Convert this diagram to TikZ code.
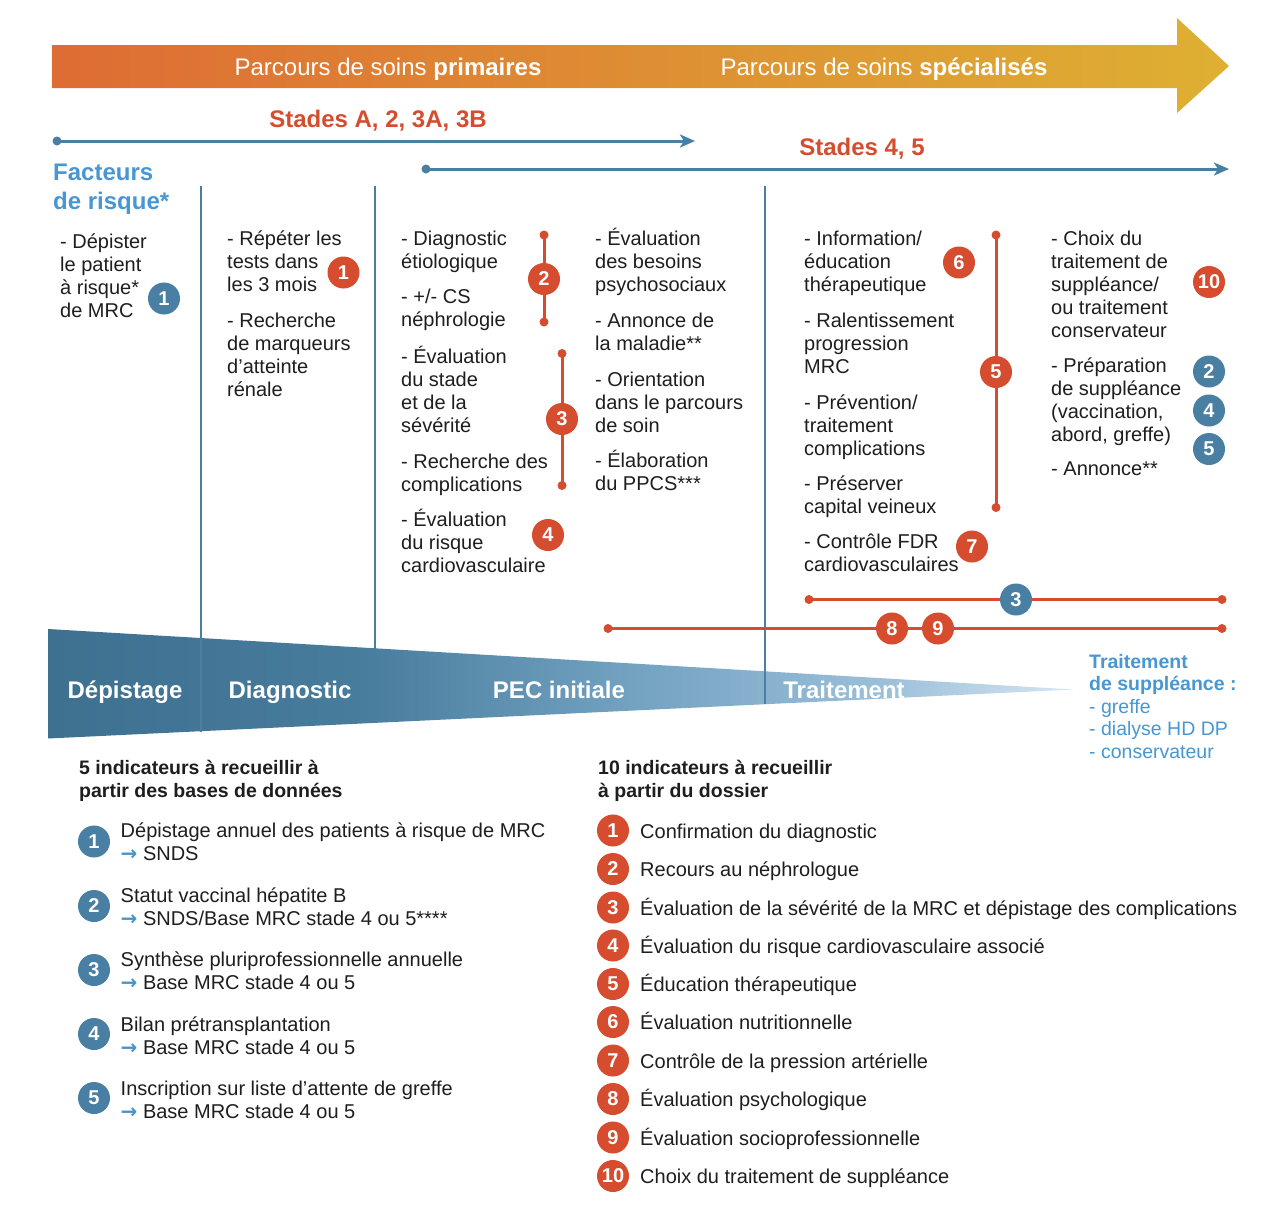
\documentclass[tikz,border=0pt]{standalone}
\usepackage{fontspec}
\setmainfont{Liberation Sans}
\newfontfamily\symfont{DejaVu Sans}
\usetikzlibrary{arrows.meta}
\definecolor{redc}{RGB}{214,76,46}
\definecolor{bluec}{RGB}{73,127,162}
\definecolor{lblue}{RGB}{72,150,210}
\definecolor{arrblue}{RGB}{70,148,200}
\definecolor{txt}{RGB}{30,30,30}
\definecolor{orL}{RGB}{222,108,52}
\definecolor{orR}{RGB}{222,176,50}
\definecolor{wA}{RGB}{62,112,144}
\definecolor{wB}{RGB}{72,124,156}
\definecolor{wC}{RGB}{110,158,190}
\definecolor{wD}{RGB}{156,192,218}
\definecolor{wE}{RGB}{214,230,242}
\pgfdeclarehorizontalshading{wedgeshade}{100bp}{color(0bp)=(wA); color(25bp)=(wA); color(40bp)=(wB); color(52bp)=(wC); color(66bp)=(wD); color(75bp)=(wE); color(100bp)=(wE)}
\pgfdeclarelayer{back}
\pgfdeclarelayer{mid}
\pgfsetlayers{back,mid,main}
\newcommand\mylines[1]{\vtop{\halign{##\hfil\cr#1\crcr}}}
\newcommand\arr{\textcolor{arrblue}{\symfont\bfseries →}}
\tikzset{
 body/.style={font=\fontsize{20}{23}\selectfont, text=txt, inner sep=0pt, anchor=base west},
 bodyb/.style={body, font=\bfseries\fontsize{19.5}{23}\selectfont},
 badge/.style={circle, fill=redc, text=white, font=\bfseries\fontsize{20}{20}\selectfont, minimum size=32pt, inner sep=0pt},
 bbadge/.style={badge, fill=bluec},
 rdot/.style={circle, fill=redc, minimum size=9pt, inner sep=0pt},
 bdot/.style={circle, fill=bluec, minimum size=9pt, inner sep=0pt},
 rline/.style={draw=redc, line width=3pt},
 barrow/.style={draw=bluec, line width=3pt, -{Stealth[length=15pt,width=13pt,inset=4pt]}},
 vline/.style={draw=bluec, line width=1.5pt},
 wlabel/.style={font=\bfseries\fontsize{24}{28}\selectfont, text=white, anchor=base, inner sep=0pt},
 toplabel/.style={font=\fontsize{24}{28}\selectfont, text=white, anchor=base, inner sep=0pt},
 stade/.style={font=\bfseries\fontsize{24}{28}\selectfont, text=redc, anchor=base, inner sep=0pt},
}
\begin{document}
\begin{tikzpicture}[x=1pt,y=-1pt]
\useasboundingbox (0,0) rectangle (1280,1208);
\begin{pgfonlayer}{back}
\fill[white] (0,0) rectangle (1280,1208);
\shade[left color=orL, right color=orR] (52,45) -- (1177,45) -- (1177,18) -- (1229,66) -- (1177,113) -- (1177,88) -- (52,88) -- cycle;
\shade[shading=wedgeshade] (48,629) -- (1073,689.5) -- (48,738.5) -- cycle;
\end{pgfonlayer}

% top arrow labels
\node[toplabel] (p1) at (388,75) {Parcours de soins \textbf{primaires}};
\node[toplabel] (p2) at (884,75) {Parcours de soins \textbf{spécialisés}};

% stages
\node[stade] (st1) at (378,127.5) {Stades A, 2, 3A, 3B};
\node[stade] (st2) at (862,155) {Stades 4, 5};
\node[bdot] (s1) at (57,141) {};
\coordinate (s1e) at (695,141);
\node[bdot] (s2) at (426,169) {};
\coordinate (s2e) at (1229,169);

\node[font=\bfseries\fontsize{24}{29}\selectfont, text=lblue, anchor=base west, inner sep=0pt] (fr) at (53,180) {\mylines{Facteurs\cr de risque*}};

% column separators
\coordinate (v1t) at (201,186); \coordinate (v1b) at (201,731.5);
\coordinate (v2t) at (375,186); \coordinate (v2b) at (375,723);
\coordinate (v3t) at (765,186); \coordinate (v3b) at (765,704);

% column texts
\node[body] (c1a) at (60,248) {\mylines{- Dépister\cr le patient\cr à risque*\cr de MRC}};
\node[body] (c2a) at (227,245) {\mylines{- Répéter les\cr tests dans\cr les 3 mois}};
\node[body] (c2b) at (227,327) {\mylines{- Recherche\cr de marqueurs\cr d’atteinte\cr rénale}};
\node[body] (c3a) at (401,245) {\mylines{- Diagnostic\cr étiologique}};
\node[body] (c3b) at (401,303.5) {\mylines{- +/- CS\cr néphrologie}};
\node[body] (c3c) at (401,363) {\mylines{- Évaluation\cr du stade\cr et de la\cr sévérité}};
\node[body] (c3d) at (401,468) {\mylines{- Recherche des\cr complications}};
\node[body] (c3e) at (401,526) {\mylines{- Évaluation\cr du risque\cr cardiovasculaire}};
\node[body] (c4a) at (595,245) {\mylines{- Évaluation\cr des besoins\cr psychosociaux}};
\node[body] (c4b) at (595,327) {\mylines{- Annonce de\cr la maladie**}};
\node[body] (c4c) at (595,386) {\mylines{- Orientation\cr dans le parcours\cr de soin}};
\node[body] (c4d) at (595,467.5) {\mylines{- Élaboration\cr du PPCS***}};
\node[body] (c5a) at (804,245) {\mylines{- Information/\cr éducation\cr thérapeutique}};
\node[body] (c5b) at (804,327) {\mylines{- Ralentissement\cr progression\cr MRC}};
\node[body] (c5c) at (804,409) {\mylines{- Prévention/\cr traitement\cr complications}};
\node[body] (c5d) at (804,490.5) {\mylines{- Préserver\cr capital veineux}};
\node[body] (c5e) at (804,548.5) {\mylines{- Contrôle FDR\cr cardiovasculaires}};
\node[body] (c6a) at (1051,245) {\mylines{- Choix du\cr traitement de\cr suppléance/\cr ou traitement\cr conservateur}};
\node[body] (c6b) at (1051,372) {\mylines{- Préparation\cr de suppléance\cr (vaccination,\cr abord, greffe)}};
\node[body] (c6c) at (1051,475.5) {\mylines{- Annonce**}};

% brackets
\node[rdot] (b2t) at (544,235) {}; \node[rdot] (b2b) at (544,322) {};
\node[rdot] (b3t) at (562,353.5) {}; \node[rdot] (b3b) at (562,485.5) {};
\node[rdot] (b5t) at (996,235) {}; \node[rdot] (b5b) at (996,507.5) {};
\node[rdot] (h1l) at (809,599.5) {}; \node[rdot] (h1r) at (1222,599.5) {};
\node[rdot] (h2l) at (608,628.5) {}; \node[rdot] (h2r) at (1222,628.5) {};

% badges top
\node[bbadge] (tb1) at (164,298.5) {1};
\node[badge] (tr1) at (343.5,272.5) {1};
\node[badge] (tr2) at (544,279) {2};
\node[badge] (tr3) at (562,419) {3};
\node[badge] (tr4) at (548,535) {4};
\node[badge] (tr6) at (959,262.5) {6};
\node[badge] (tr5) at (996,372) {5};
\node[badge] (tr7) at (972,546.5) {7};
\node[badge] (tr10) at (1209,282) {10};
\node[bbadge] (tb2) at (1209,371.5) {2};
\node[bbadge] (tb4) at (1209,410.5) {4};
\node[bbadge] (tb5) at (1209,449) {5};
\node[bbadge] (tb3) at (1016,599.5) {3};
\node[badge] (tr8) at (892,628.5) {8};
\node[badge] (tr9) at (938,628.5) {9};

\begin{pgfonlayer}{mid}
\draw[barrow] (s1.center) -- (s1e);
\draw[barrow] (s2.center) -- (s2e);
\draw[vline] (v1t) -- (v1b);
\draw[vline] (v2t) -- (v2b);
\draw[vline] (v3t) -- (v3b);
\draw[rline] (b2t.center) -- (b2b.center);
\draw[rline] (b3t.center) -- (b3b.center);
\draw[rline] (b5t.center) -- (b5b.center);
\draw[rline] (h1l.center) -- (h1r.center);
\draw[rline] (h2l.center) -- (h2r.center);
\end{pgfonlayer}

% wedge labels
\node[wlabel] (w1) at (125,698) {Dépistage};
\node[wlabel] (w2) at (290,698) {Diagnostic};
\node[wlabel] (w3) at (559,698) {PEC initiale};
\node[wlabel] (w4) at (844,698) {Traitement};

\node[font=\fontsize{19.5}{22.4}\selectfont, text=lblue, anchor=base west, inner sep=0pt] (ts) at (1089,668.5)
 {\mylines{\bfseries Traitement\cr \bfseries de suppléance :\cr - greffe\cr - dialyse HD DP\cr - conservateur}};

% bottom left list
\node[bodyb] (hl) at (79,774) {\mylines{5 indicateurs à recueillir à\cr partir des bases de données}};
\node[bbadge] (l1) at (94,841.5) {1};
\node[bbadge] (l2) at (94,906) {2};
\node[bbadge] (l3) at (94,970) {3};
\node[bbadge] (l4) at (94,1034) {4};
\node[bbadge] (l5) at (94,1098) {5};
\node[body] (lt1) at (120.5,837.5) {\mylines{Dépistage annuel des patients à risque de MRC\cr \arr\ SNDS}};
\node[body] (lt2) at (120.5,902) {\mylines{Statut vaccinal hépatite B\cr \arr\ SNDS/Base MRC stade 4 ou 5****}};
\node[body] (lt3) at (120.5,966.5) {\mylines{Synthèse pluriprofessionnelle annuelle\cr \arr\ Base MRC stade 4 ou 5}};
\node[body] (lt4) at (120.5,1031) {\mylines{Bilan prétransplantation\cr \arr\ Base MRC stade 4 ou 5}};
\node[body] (lt5) at (120.5,1095) {\mylines{Inscription sur liste d’attente de greffe\cr \arr\ Base MRC stade 4 ou 5}};

% bottom right list
\node[bodyb] (hr) at (598,774) {\mylines{10 indicateurs à recueillir\cr à partir du dossier}};
\node[badge] (r1) at (613,830.5) {1};
\node[badge] (r2) at (613,869) {2};
\node[badge] (r3) at (613,907.5) {3};
\node[badge] (r4) at (613,945.5) {4};
\node[badge] (r5) at (613,984) {5};
\node[badge] (r6) at (613,1022) {6};
\node[badge] (r7) at (613,1060.5) {7};
\node[badge] (r8) at (613,1099) {8};
\node[badge] (r9) at (613,1137.5) {9};
\node[badge] (r10) at (613,1176) {10};
\node[body] (rt1) at (640,838) {Confirmation du diagnostic};
\node[body] (rt2) at (640,876.5) {Recours au néphrologue};
\node[body] (rt3) at (640,915) {Évaluation de la sévérité de la MRC et dépistage des complications};
\node[body] (rt4) at (640,953) {Évaluation du risque cardiovasculaire associé};
\node[body] (rt5) at (640,991.5) {Éducation thérapeutique};
\node[body] (rt6) at (640,1029.5) {Évaluation nutritionnelle};
\node[body] (rt7) at (640,1068) {Contrôle de la pression artérielle};
\node[body] (rt8) at (640,1106.5) {Évaluation psychologique};
\node[body] (rt9) at (640,1145) {Évaluation socioprofessionnelle};
\node[body] (rt10) at (640,1183.5) {Choix du traitement de suppléance};
\end{tikzpicture}
\end{document}
